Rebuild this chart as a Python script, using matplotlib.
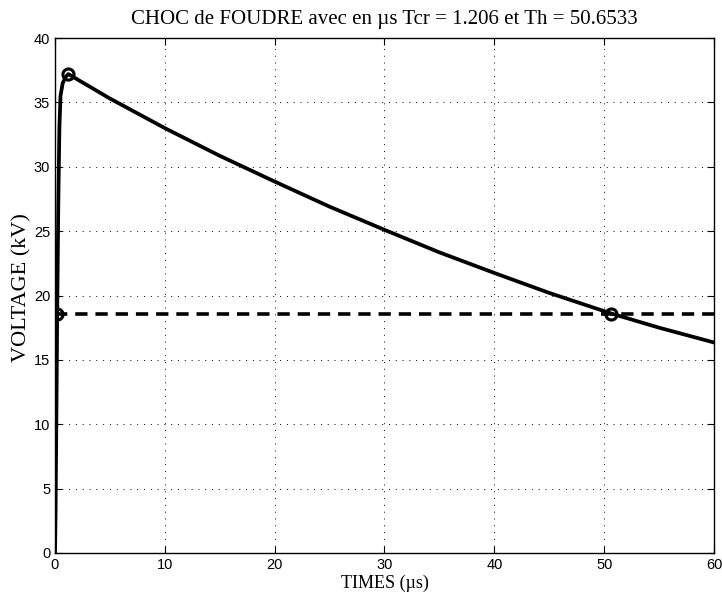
import matplotlib
matplotlib.use("Agg")
import matplotlib.pyplot as plt

# Data
t_us = [0, 0.05, 0.1, 0.15, 0.2, 0.3, 0.4, 0.5, 0.7, 1.0, 1.206,
        5, 10, 15, 20, 25, 30, 35, 40, 45, 50.6533, 55, 60]
v_kv = [0, 3, 8, 13, 18.6, 27, 33, 35.5, 36.5, 37.0, 37.2,
        35.3, 33.0, 30.85, 28.85, 26.9, 25.1, 23.35, 21.75, 20.2, 18.6, 17.5, 16.35]
mark_t = [0.2, 1.206, 50.6533]
mark_v = [18.6, 37.2, 18.6]
half_level = 18.6
x_ticks = [0, 10, 20, 30, 40, 50, 60]
y_ticks = [0, 5, 10, 15, 20, 25, 30, 35, 40]

serif = ["Liberation Serif", "DejaVu Serif"]
sans = ["Liberation Sans", "DejaVu Sans"]

fig = plt.figure(figsize=(7.22, 5.99), dpi=100)
ax = fig.add_axes([55/722, 1-553/599, 659/722, 515/599])

ax.plot(t_us, v_kv, color="black", lw=2.7, solid_joinstyle="round")
ax.plot([0, 60], [half_level, half_level], color="black", lw=2.6,
        linestyle=(0, (3.4, 2.2)))
ax.plot(mark_t, mark_v, linestyle="none", marker="o", ms=8,
        mfc="none", mec="black", mew=2.2)

ax.set_xlim(0, 60)
ax.set_ylim(0, 40)
ax.set_xticks(x_ticks)
ax.set_yticks(y_ticks)
ax.grid(True, color="black", linestyle=(0, (1, 6)), lw=0.7)
ax.tick_params(direction="in", top=True, right=True, length=5, width=0.8,
               labelsize=10.5)
for lab in ax.get_xticklabels() + ax.get_yticklabels():
    lab.set_fontfamily(sans)
for s in ax.spines.values():
    s.set_linewidth(1.0)

ax.set_title("CHOC de FOUDRE avec en \u00b5s Tcr = 1.206 et Th = 50.6533",
             fontfamily=serif, fontsize=15, pad=10)
ax.set_xlabel("TIMES (\u00b5s)", fontfamily=serif, fontsize=13, labelpad=2)
ax.set_ylabel("VOLTAGE (kV)", fontfamily=serif, fontsize=16)
ax.yaxis.set_label_coords(-0.036, 0.515)

fig.savefig("out.png", dpi=100)
